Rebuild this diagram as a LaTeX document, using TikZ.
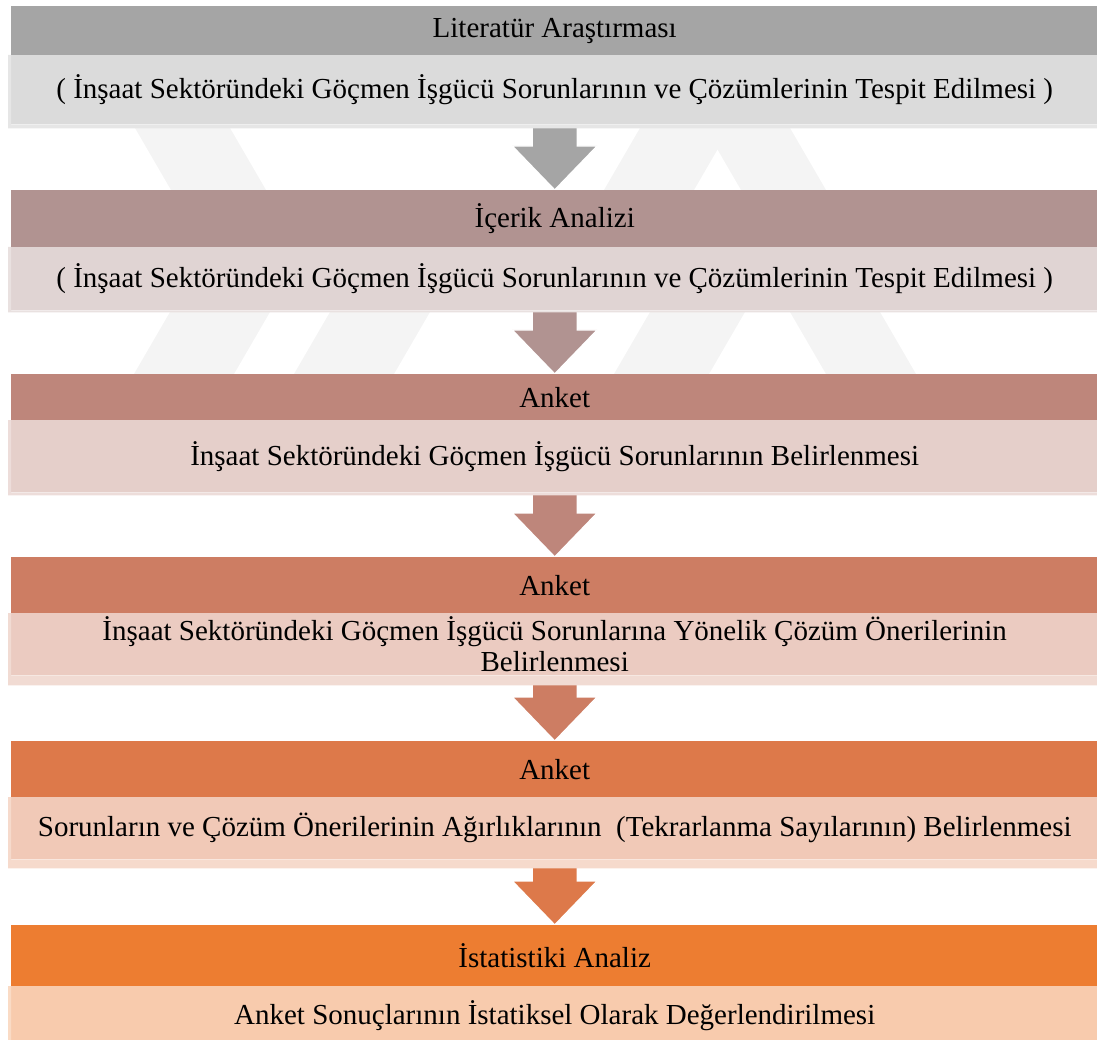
\documentclass[tikz,border=0pt]{standalone}
\usepackage{fontspec}
\setmainfont{Liberation Serif}
\usetikzlibrary{calc}
\pgfdeclarelayer{wm}
\pgfdeclarelayer{bg}
\pgfsetlayers{wm,bg,main}
\definecolor{c1}{HTML}{A5A5A5}
\definecolor{c2}{HTML}{B19391}
\definecolor{c3}{HTML}{BE867B}
\definecolor{c4}{HTML}{CD7D63}
\definecolor{c5}{HTML}{DD794A}
\definecolor{c6}{HTML}{ED7D31}
\definecolor{wmark}{HTML}{F4F4F4}
\tikzset{
  hdr/.style={rectangle, anchor=north west, inner sep=0pt, minimum width=1087pt,
    font=\fontsize{29}{31}\selectfont, text=black, align=center},
  lite/.style={hdr},
  barrow/.style={fill=#1, draw=white, line width=1.4pt, line join=miter},
  wmband/.style={fill=wmark}
}
\newcommand\blockarrow[3]{%
  \draw[barrow=#3] let \p1=(#1.south), \p2=(#2.north) in
    (\x1-22.5pt,\y1) -- (\x1+22.5pt,\y1) -- (\x1+22.5pt,\y2+44pt) -- (\x1+42.5pt,\y2+44pt)
    -- (\x1,\y2) -- (\x1-42.5pt,\y2+44pt) -- (\x1-22.5pt,\y2+44pt) -- cycle;}
\begin{document}
\begin{tikzpicture}[x=1pt,y=-1pt]
\useasboundingbox (0,0) rectangle (1097,1040);
% block 1
\node[hdr, fill=c1, minimum height=49pt] (h1) at (11,6) {Literatür Araştırması};
\node[lite, fill=c1!40!white, minimum height=69pt] (l1) at (11,55)
  {( İnşaat Sektöründeki Göçmen İşgücü Sorunlarının ve Çözümlerinin Tespit Edilmesi )};
\fill[c1!28!white] (l1.north west) -- ++(-3,0) |- ($(l1.south east)+(0,4)$) -- (l1.south east) -- (l1.south west) -- cycle;
% block 2
\node[hdr, fill=c2, minimum height=57pt] (h2) at (11,190) {İçerik Analizi};
\node[lite, fill=c2!40!white, minimum height=63pt] (l2) at (11,247)
  {( İnşaat Sektöründeki Göçmen İşgücü Sorunlarının ve Çözümlerinin Tespit Edilmesi )};
\fill[c2!28!white] (l2.north west) -- ++(-3,0) |- ($(l2.south east)+(0,2)$) -- (l2.south east) -- (l2.south west) -- cycle;
% block 3
\node[hdr, fill=c3, minimum height=46pt] (h3) at (11,374) {Anket};
\node[lite, fill=c3!40!white, minimum height=72pt] (l3) at (11,420)
  {İnşaat Sektöründeki Göçmen İşgücü Sorunlarının Belirlenmesi};
\fill[c3!28!white] (l3.north west) -- ++(-3,0) |- ($(l3.south east)+(0,3)$) -- (l3.south east) -- (l3.south west) -- cycle;
% block 4
\node[hdr, fill=c4, minimum height=56pt] (h4) at (11,557) {Anket};
\node[lite, fill=c4!40!white, minimum height=62pt] (l4) at (11,613)
  {\raisebox{-5pt}{\parbox{1000pt}{\centering İnşaat Sektöründeki Göçmen İşgücü Sorunlarına Yönelik Çözüm Önerilerinin\\ Belirlenmesi}}};
\fill[c4!28!white] (l4.north west) -- ++(-3,0) |- ($(l4.south east)+(0,10)$) -- (l4.south east) -- (l4.south west) -- cycle;
% block 5
\node[hdr, fill=c5, minimum height=56pt] (h5) at (11,741) {Anket};
\node[lite, fill=c5!40!white, minimum height=62pt] (l5) at (11,797)
  {Sorunların ve Çözüm Önerilerinin Ağırlıklarının~ (Tekrarlanma Sayılarının) Belirlenmesi};
\fill[c5!28!white] (l5.north west) -- ++(-3,0) |- ($(l5.south east)+(0,9)$) -- (l5.south east) -- (l5.south west) -- cycle;
% block 6
\node[hdr, fill=c6, minimum height=61pt] (h6) at (11,925) {İstatistiki Analiz};
\node[lite, fill=c6!40!white, minimum height=58pt] (l6) at (11,986)
  {Anket Sonuçlarının İstatiksel Olarak Değerlendirilmesi};
\fill[c6!28!white] (l6.north west) -- ++(-3,0) -- ++(0,60) -- (l6.south west) -- cycle;
% arrows
\begin{pgfonlayer}{bg}
\blockarrow{l1}{h2}{c1}
\blockarrow{l2}{h3}{c2}
\blockarrow{l3}{h4}{c3}
\blockarrow{l4}{h5}{c4}
\blockarrow{l5}{h6}{c5}
\end{pgfonlayer}
% faint background watermark
\begin{pgfonlayer}{wm}
\fill[wmband] (135,128) -- (230,128) -- (266,190) -- (171,190) -- cycle;
\fill[wmband] (640,128) -- (730,128) -- (694,190) -- (604,190) -- cycle;
\fill[wmband] (705,128) -- (790,128) -- (826,190) -- (741,190) -- cycle;
\fill[wmband] (170,312) -- (270,312) -- (234,374) -- (134,374) -- cycle;
\fill[wmband] (330,312) -- (430,312) -- (394,374) -- (294,374) -- cycle;
\fill[wmband] (650,312) -- (745,312) -- (709,374) -- (614,374) -- cycle;
\fill[wmband] (790,312) -- (880,312) -- (916,374) -- (826,374) -- cycle;
\end{pgfonlayer}
\end{tikzpicture}
\end{document}
